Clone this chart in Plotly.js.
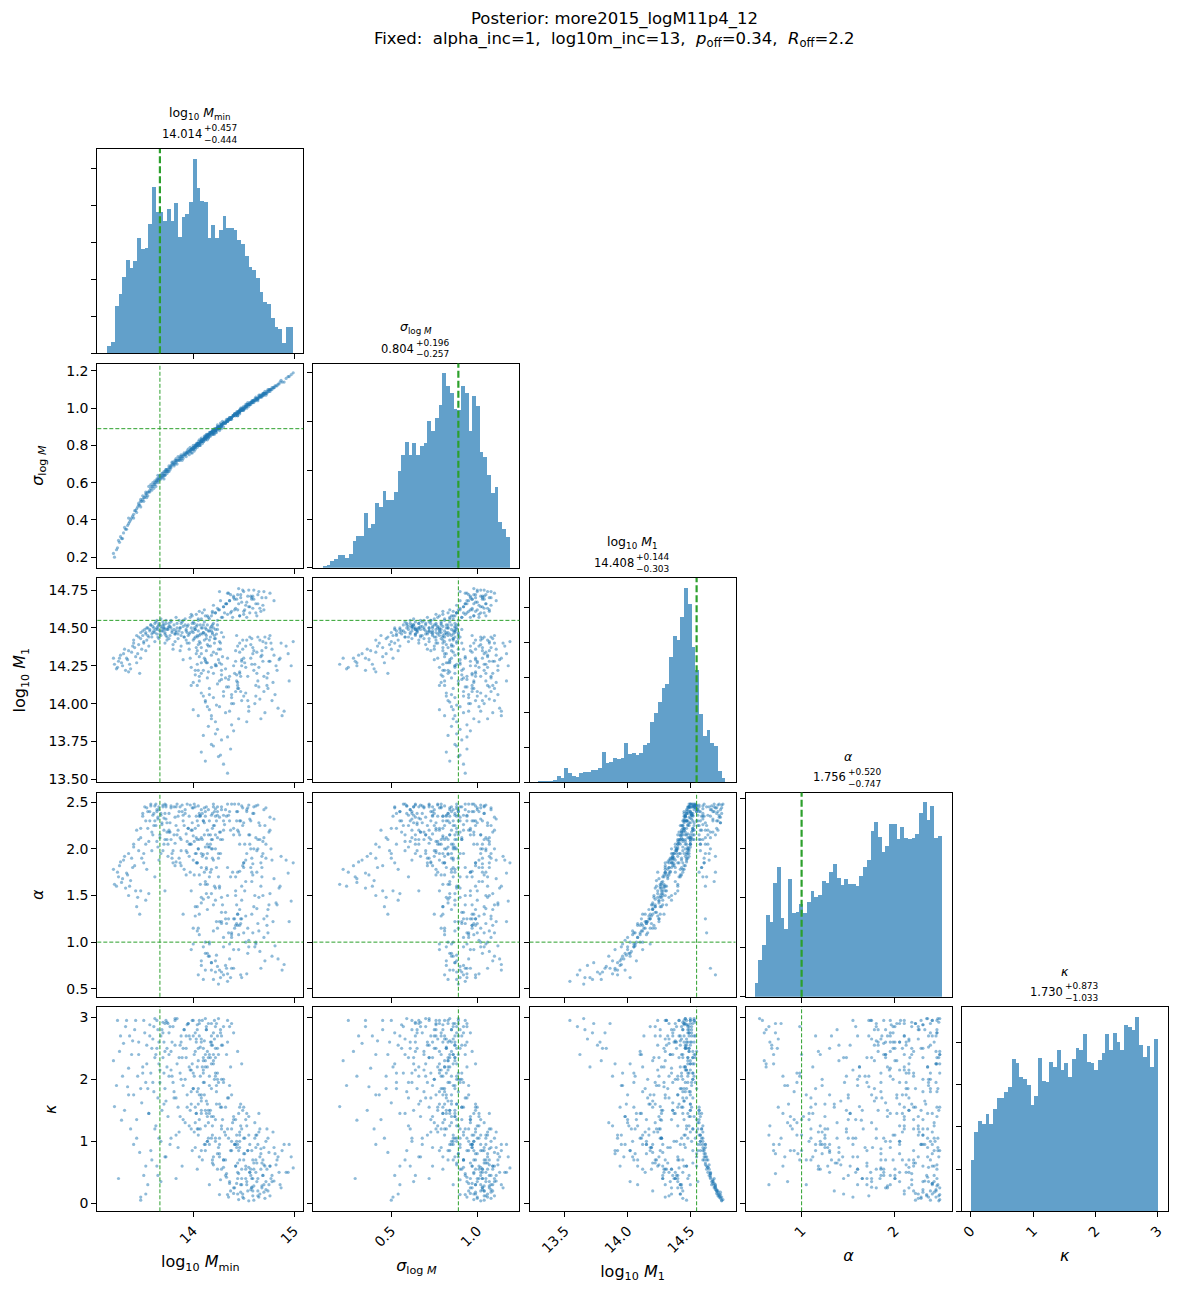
<!DOCTYPE html>
<html><head><meta charset="utf-8">
<script src="https://cdn.plot.ly/plotly-3.0.1.min.js"></script>
<style>body{margin:0;background:#fff}</style>
</head><body><div id="chart" style="width:1178px;height:1292px"></div>
<script>
// ---------------- posterior samples ----------------
const mmin = [
13.22,13.25,13.27,13.29,13.31,13.33,13.35,13.36,13.38,13.40,
13.41,13.43,13.44,13.46,13.47,13.48,13.49,13.50,13.51,13.52,
13.53,13.54,13.55,13.56,13.57,13.58,13.59,13.60,13.61,13.62,
13.62,13.63,13.64,13.64,13.65,13.66,13.66,13.67,13.68,13.68,
13.69,13.70,13.45,13.37,13.53,
13.71,13.72,13.73,13.74,13.75,13.76,13.77,13.78,13.79,13.80,
13.81,13.82,13.83,13.84,13.85,13.86,13.87,13.88,13.89,13.90,
13.91,13.92,13.93,13.94,13.95,13.96,13.97,13.98,13.99,14.00,
14.01,14.01,14.02,14.03,14.03,14.04,14.05,14.05,14.06,14.07,
14.07,14.08,14.09,14.09,14.10,14.11,14.11,14.12,14.13,14.13,
14.14,14.15,14.15,14.16,14.17,14.18,14.18,14.19,14.20,14.21,
14.22,14.22,14.23,14.24,14.25,13.74,13.78,13.83,13.88,13.92,
13.96,14.00,14.04,14.08,14.12,14.16,14.20,13.86,13.94,14.02,
14.06,14.10,14.14,14.18,14.22,13.72,13.80,13.90,13.98,14.05,
14.19,14.11,14.03,13.97,14.24,
14.34,14.30,14.12,14.25,14.08,14.37,14.18,14.28,14.10,14.40,
14.15,14.22,14.45,14.05,14.32,14.00,14.26,14.38,14.12,14.48,
14.20,14.30,14.08,14.42,14.16,14.35,13.98,14.24,14.44,14.06,
14.28,14.14,14.36,14.02,14.20,14.46,14.10,14.32,14.18,14.40,
14.04,14.26,14.48,14.12,14.34,14.22,14.16,14.38,14.28,14.08,
14.18,14.22,14.25,14.28,14.30,14.32,14.34,14.36,14.38,14.40,
14.42,14.44,14.46,14.48,14.50,14.52,14.54,14.56,14.58,14.60,
14.62,14.64,14.66,14.68,14.70,14.35,14.45,14.27,14.39,14.51,
14.57,14.63,14.20,14.31,14.43,14.55,14.67,14.47,14.33,14.59,
14.41,14.26,14.53,14.37,14.49,
14.42,14.44,14.46,14.48,14.50,14.52,14.54,14.55,14.57,14.58,
14.60,14.61,14.63,14.64,14.66,14.67,14.69,14.70,14.72,14.74,
14.76,14.78,14.80,14.84,14.88,14.92,14.99,14.45,14.51,14.56,
14.62,14.68,14.73,14.77,14.82,14.47,14.53,14.59,14.65,14.71,
14.43,14.86,14.95,14.49,14.75,
13.21,13.24,13.26,13.28,13.30,13.32,13.34,13.36,13.39,13.41,
13.42,13.44,13.46,13.48,13.50,13.51,13.53,13.54,13.56,13.57,
13.58,13.59,13.60,13.61,13.62,13.63,13.64,13.65,13.65,13.66,
13.67,13.68,13.69,13.70,13.71,13.72,13.73,13.74,13.48,13.55,
13.70,13.71,13.73,13.75,13.76,13.78,13.79,13.81,13.82,13.84,
13.85,13.87,13.88,13.90,13.91,13.93,13.94,13.96,13.97,13.99,
14.00,14.02,14.03,14.04,14.06,14.07,14.08,14.10,14.11,14.12,
14.13,14.14,14.16,14.17,14.19,14.20,14.21,14.23,14.24,14.26,
14.27,14.28,14.29,14.30,13.77,13.83,13.89,13.95,14.01,14.05,
14.09,14.13,14.17,14.21,14.25,13.72,13.76,13.82,13.87,13.93,
13.99,14.04,14.08,14.15,14.19,14.23,14.27,13.98,14.06,14.14,
14.02,14.10,14.18,14.26,14.34,14.42,14.06,14.14,14.22,14.30,
14.38,14.46,14.04,14.12,14.20,14.28,14.36,14.44,14.52,14.08,
14.16,14.24,14.32,14.40,14.48,14.00,14.18,14.28,14.38,14.13,
14.23,14.33,14.43,14.27,14.35,
14.05,14.12,14.19,14.24,14.29,14.33,14.37,14.41,14.44,14.47,
14.50,14.53,14.56,14.59,14.62,14.65,14.69,14.72,14.76,14.15,
14.26,14.36,14.46,14.55,14.64,14.30,14.40,14.50,14.60,14.70,
14.22,14.34,14.45,14.58,14.80,
14.41,14.44,14.47,14.50,14.53,14.55,14.58,14.60,14.62,14.64,
14.66,14.68,14.70,14.72,14.74,14.76,14.78,14.81,14.83,14.87,
14.90,14.94,14.97,14.43,14.49,14.54,14.59,14.63,14.67,14.71,
14.75,14.79,14.46,14.52,14.57,14.61,14.65,14.69,14.73,14.85];
const sigma = [
0.20,0.25,0.28,0.30,0.33,0.35,0.37,0.38,0.40,0.42,
0.43,0.45,0.46,0.48,0.48,0.50,0.50,0.51,0.52,0.52,
0.53,0.54,0.55,0.55,0.56,0.57,0.58,0.58,0.59,0.59,
0.60,0.60,0.61,0.61,0.62,0.62,0.63,0.62,0.63,0.64,
0.63,0.64,0.47,0.39,0.54,
0.64,0.65,0.66,0.66,0.67,0.68,0.68,0.69,0.70,0.70,
0.70,0.71,0.71,0.72,0.72,0.72,0.73,0.73,0.74,0.74,
0.75,0.75,0.76,0.76,0.76,0.77,0.77,0.78,0.78,0.78,
0.79,0.79,0.79,0.80,0.80,0.80,0.81,0.81,0.81,0.82,
0.82,0.82,0.83,0.83,0.83,0.84,0.84,0.84,0.85,0.85,
0.85,0.86,0.86,0.86,0.87,0.87,0.87,0.87,0.87,0.88,
0.88,0.88,0.89,0.89,0.89,0.67,0.69,0.72,0.74,0.75,
0.77,0.79,0.80,0.82,0.84,0.86,0.88,0.73,0.76,0.80,
0.81,0.83,0.85,0.87,0.89,0.66,0.71,0.75,0.78,0.81,
0.88,0.84,0.80,0.77,0.89,
0.93,0.92,0.84,0.89,0.82,0.94,0.87,0.91,0.83,0.96,
0.85,0.88,0.98,0.81,0.92,0.78,0.90,0.95,0.84,0.99,
0.87,0.92,0.82,0.97,0.86,0.94,0.78,0.89,0.98,0.81,
0.91,0.85,0.94,0.79,0.87,0.99,0.83,0.92,0.87,0.96,
0.80,0.90,1.00,0.84,0.93,0.88,0.86,0.95,0.91,0.82,
0.87,0.88,0.90,0.91,0.92,0.93,0.93,0.94,0.95,0.96,
0.97,0.98,0.98,0.99,1.00,1.01,1.02,1.02,1.03,1.04,
1.05,1.05,1.06,1.07,1.08,0.94,0.98,0.90,0.96,1.00,
1.03,1.05,0.88,0.92,0.97,1.02,1.07,0.99,0.93,1.04,
0.97,0.90,1.01,0.95,1.00,
0.96,0.97,0.98,0.99,1.00,1.01,1.02,1.02,1.03,1.03,
1.04,1.04,1.05,1.05,1.06,1.06,1.07,1.08,1.08,1.09,
1.10,1.10,1.11,1.13,1.14,1.16,1.19,0.98,1.00,1.02,
1.05,1.07,1.09,1.10,1.12,0.99,1.01,1.04,1.06,1.08,
0.97,1.14,1.17,0.99,1.10,
0.22,0.24,0.29,0.31,0.30,0.36,0.35,0.41,0.41,0.41,
0.45,0.44,0.49,0.47,0.53,0.50,0.55,0.52,0.58,0.55,
0.59,0.56,0.60,0.57,0.61,0.58,0.62,0.60,0.64,0.61,
0.64,0.62,0.65,0.63,0.66,0.64,0.67,0.65,0.51,0.53,
0.65,0.62,0.67,0.66,0.69,0.68,0.71,0.69,0.72,0.70,
0.74,0.72,0.75,0.73,0.76,0.74,0.77,0.75,0.79,0.76,
0.80,0.78,0.81,0.79,0.83,0.80,0.84,0.82,0.85,0.83,
0.86,0.83,0.87,0.85,0.88,0.86,0.89,0.87,0.91,0.88,
0.92,0.89,0.93,0.90,0.67,0.73,0.72,0.78,0.77,0.82,
0.81,0.85,0.87,0.86,0.90,0.64,0.66,0.70,0.74,0.76,
0.78,0.81,0.83,0.84,0.86,0.89,0.91,0.76,0.80,0.86,
0.80,0.82,0.87,0.89,0.94,0.96,0.80,0.85,0.87,0.92,
0.94,0.99,0.81,0.83,0.88,0.90,0.95,0.97,1.01,0.83,
0.85,0.90,0.92,0.96,0.99,0.79,0.86,0.91,0.95,0.84,
0.88,0.93,0.97,0.90,0.94,
0.81,0.85,0.86,0.90,0.91,0.94,0.94,0.97,0.96,0.99,
1.01,1.00,1.03,1.04,1.04,1.06,1.08,1.08,1.10,0.84,
0.89,0.95,0.98,1.02,1.05,0.92,0.96,0.99,1.04,1.07,
0.88,0.93,0.98,1.03,1.11,
0.97,0.96,1.00,0.99,1.02,1.01,1.04,1.03,1.06,1.04,
1.07,1.06,1.08,1.07,1.10,1.09,1.11,1.12,1.12,1.15,
1.14,1.17,1.18,0.98,0.99,1.03,1.03,1.05,1.06,1.09,
1.09,1.11,0.97,1.02,1.02,1.05,1.07,1.07,1.08,1.13];
const m1 = [
14.26,14.24,14.30,14.27,14.33,14.22,14.29,14.35,14.23,14.38,
14.40,14.31,14.27,14.44,14.20,14.47,14.36,14.45,14.40,14.49,
14.46,14.42,14.50,14.38,14.48,14.52,14.44,14.47,14.50,14.53,
14.41,14.49,14.55,14.46,14.51,14.43,14.52,14.48,14.56,14.45,
14.50,14.54,14.33,14.26,14.35,
14.50,14.47,14.53,14.42,14.49,14.51,14.45,14.55,14.48,14.39,
14.52,14.46,14.57,14.50,14.43,14.48,14.35,14.53,14.47,14.51,
14.44,14.56,14.49,14.40,14.52,14.46,14.30,14.50,14.58,14.47,
14.53,14.43,14.49,14.37,14.51,14.45,14.55,14.48,14.41,14.52,
14.46,14.33,14.50,14.60,14.47,14.42,14.54,14.28,14.49,14.45,
14.52,14.38,14.48,14.56,14.44,14.51,14.32,14.47,14.53,14.40,
14.49,14.26,14.46,14.55,14.36,14.44,14.50,14.48,14.45,14.52,
14.40,14.54,14.35,14.50,14.46,14.42,14.50,14.55,14.47,14.44,
14.31,14.52,14.39,14.48,14.43,14.40,14.36,14.29,14.24,14.22,
14.60,14.62,14.59,14.57,14.52,
13.54,13.60,13.62,13.65,13.68,13.70,13.73,13.76,13.79,13.82,
13.85,13.88,13.90,13.92,13.94,13.96,13.98,14.00,14.01,14.02,
14.04,14.05,14.07,14.08,14.10,14.11,14.12,14.13,14.14,14.15,
14.16,14.17,14.18,14.19,14.20,14.21,14.22,14.23,14.24,14.25,
14.26,14.27,14.28,14.29,14.30,13.80,13.96,14.06,14.19,14.27,
14.58,14.60,14.62,14.57,14.64,14.66,14.59,14.68,14.61,14.70,
14.63,14.72,14.58,14.67,14.74,14.65,14.71,14.60,14.69,14.75,
14.66,14.72,14.63,14.70,14.74,14.73,14.76,14.68,14.57,14.62,
14.71,14.58,14.65,14.60,14.69,14.64,14.61,14.70,14.66,14.63,
14.62,14.74,14.57,14.72,14.75,
14.35,14.12,14.40,14.25,14.05,14.38,14.18,13.95,14.30,14.43,
14.22,14.00,14.34,14.15,14.42,13.90,14.28,14.08,14.37,14.20,
14.45,14.02,14.32,13.97,13.92,14.38,14.41,14.10,14.27,14.44,
14.05,14.35,14.12,14.40,14.25,14.18,13.88,14.33,14.24,14.44,
14.45,14.30,14.15,14.36,14.28,
14.30,14.23,14.28,14.32,14.25,14.36,14.30,14.21,14.34,14.42,
14.37,14.45,14.39,14.43,14.48,14.41,14.47,14.50,14.44,14.49,
14.52,14.46,14.51,14.48,14.47,14.54,14.50,14.44,14.49,14.53,
14.46,14.51,14.48,14.52,14.50,14.46,14.55,14.49,14.30,14.45,
14.48,14.52,14.45,14.50,14.43,14.54,14.47,14.49,14.41,14.53,
14.46,14.50,14.38,14.55,14.44,14.48,14.51,14.36,14.47,14.53,
14.42,14.49,14.33,14.52,14.45,14.40,14.56,14.47,14.30,14.50,
14.43,14.27,14.48,14.38,14.52,14.34,14.45,14.25,14.49,14.41,
14.36,14.47,14.31,14.44,14.51,14.47,14.54,14.45,14.50,14.39,
14.46,14.35,14.50,14.43,14.29,14.49,14.53,14.46,14.50,14.42,
14.48,14.44,14.37,14.21,14.46,14.33,14.40,14.59,14.61,14.58,
14.22,14.05,13.92,14.15,13.78,14.28,14.18,13.98,14.25,14.08,
13.86,14.20,14.12,14.02,13.72,14.26,13.95,14.10,14.24,14.20,
14.06,13.83,14.17,14.00,14.29,14.14,13.90,14.22,14.04,14.27,
13.99,14.11,14.19,13.66,14.16,
14.56,14.58,14.61,14.63,14.57,14.66,14.60,14.69,14.62,14.72,
14.59,14.67,14.64,14.71,14.60,14.74,14.65,14.70,14.73,14.57,
14.62,14.68,14.58,14.75,14.66,14.64,14.71,14.61,14.69,14.62,
14.60,14.73,14.66,14.70,14.68,
14.20,14.38,14.08,14.30,14.42,13.98,14.26,14.35,14.12,14.44,
14.03,14.32,14.18,14.40,14.10,14.28,14.36,14.06,14.22,14.40,
13.95,14.33,14.25,14.15,14.42,14.02,14.37,14.20,14.31,13.94,
14.43,14.14,14.34,14.07,14.39,14.26,14.11,14.41,14.17,14.29];
const alpha = [
1.62,1.75,1.82,1.64,1.88,1.58,1.72,1.95,1.66,1.80,
2.02,1.55,1.38,2.10,1.30,2.22,1.90,2.35,1.85,2.45,
2.05,1.78,2.40,1.52,2.30,2.48,1.98,2.15,2.38,2.46,
1.70,2.25,2.42,2.08,2.32,1.88,2.45,2.12,2.36,1.95,
2.28,2.47,1.48,1.60,1.45,
2.05,2.38,2.45,2.10,1.92,2.38,2.28,2.44,1.95,1.98,
2.15,1.82,2.25,2.48,2.20,1.90,1.85,2.10,2.40,2.36,
2.25,2.42,1.98,2.08,2.22,2.35,1.75,2.05,2.20,1.88,
2.48,1.72,2.45,1.95,2.12,2.30,2.46,2.00,2.10,2.35,
2.36,1.80,2.10,2.38,1.94,2.15,2.44,1.65,2.45,1.78,
2.20,2.02,2.42,2.30,1.75,2.36,1.78,2.38,2.25,1.60,
2.00,1.58,2.30,2.40,1.90,2.18,2.10,2.45,1.82,2.38,
2.05,2.44,1.85,2.12,2.35,1.70,2.48,2.40,1.96,2.22,
1.72,2.30,1.95,2.00,2.15,1.55,1.85,1.30,1.55,1.15,
2.10,2.28,2.35,2.47,2.36,
0.58,0.65,0.70,0.55,0.75,0.62,0.78,0.68,0.60,0.72,
0.85,0.80,0.92,0.65,0.75,0.98,0.70,1.05,0.88,0.62,
1.12,0.95,0.80,1.18,1.00,1.25,0.92,1.15,1.30,1.08,
1.22,1.35,0.98,1.28,1.40,1.18,1.46,1.32,1.52,1.25,
1.38,1.58,1.45,1.62,1.50,0.68,0.85,1.10,1.20,1.48,
2.10,2.35,1.95,2.45,2.20,2.42,1.80,2.30,2.48,2.15,
1.70,2.40,2.05,2.46,2.28,1.88,2.44,2.32,1.65,2.38,
2.12,2.47,2.25,1.92,2.42,2.36,2.48,2.18,1.75,2.05,
2.30,1.98,2.45,2.26,2.40,2.15,1.85,0.65,0.72,1.10,
1.25,2.34,2.40,2.20,2.44,
1.50,1.30,2.15,1.25,1.10,1.65,1.15,0.95,1.80,1.90,
1.38,0.95,1.75,1.20,2.10,0.72,1.50,1.05,1.90,1.35,
2.20,0.85,1.68,0.82,0.70,1.88,1.85,1.08,1.55,2.15,
0.98,1.80,1.18,2.00,1.42,1.25,0.66,1.72,1.48,2.25,
2.30,1.60,1.22,1.82,1.40,
1.78,1.60,1.70,1.86,1.68,1.92,1.74,1.50,1.90,2.05,
1.82,2.20,1.98,2.12,2.38,1.95,2.30,2.44,2.08,2.40,
2.46,2.18,2.36,2.25,2.30,2.48,2.40,2.02,2.34,2.42,
2.15,2.38,2.26,2.45,2.33,2.10,2.47,2.28,1.55,2.22,
1.98,2.20,2.32,2.05,2.18,2.46,1.90,2.45,2.06,2.15,
2.35,2.12,1.98,2.30,1.78,2.16,2.48,1.92,2.05,2.28,
2.14,1.95,1.85,2.10,2.38,1.62,2.42,2.30,1.75,2.02,
1.80,1.62,2.02,2.05,2.22,1.88,2.40,1.22,2.12,2.18,
1.95,2.42,1.40,2.30,2.18,1.86,2.47,2.22,2.08,2.00,
1.92,1.90,2.15,2.25,1.70,2.48,2.20,2.34,2.45,1.72,
2.44,1.85,1.95,1.48,2.00,1.80,2.10,2.20,2.35,2.05,
1.38,0.95,0.78,1.22,0.66,1.55,1.30,0.88,1.45,1.05,
0.72,1.35,1.12,1.00,0.60,1.48,0.82,1.18,1.28,1.42,
0.98,0.74,1.25,0.92,1.60,1.15,0.70,1.32,1.08,1.52,
0.86,1.20,1.40,0.62,1.10,
2.25,2.40,1.90,2.45,2.10,2.35,1.70,2.48,2.20,2.30,
1.80,2.42,2.05,2.38,2.46,2.28,1.95,2.44,2.34,2.15,
1.60,2.40,2.30,2.47,2.00,2.36,2.22,1.85,2.45,2.12,
2.43,2.48,2.18,1.75,2.32,
1.15,1.75,1.20,1.85,1.95,1.02,1.30,2.00,1.00,2.10,
0.90,1.70,1.25,2.05,1.10,1.52,1.88,0.96,1.40,1.92,
0.76,1.74,1.44,1.20,2.25,0.88,1.84,1.36,1.60,0.80,
2.18,1.22,1.76,1.00,2.00,1.50,1.12,2.08,1.28,1.58];
const kappa = [
1.56,2.95,2.45,1.34,2.58,2.85,1.88,2.18,1.20,2.62,
1.75,2.95,1.05,2.40,0.82,0.05,1.62,2.20,0.45,2.75,
1.95,2.55,0.30,1.45,2.88,2.10,0.70,2.65,1.80,2.98,
2.35,1.25,0.60,2.50,2.80,1.05,2.25,1.95,0.35,2.70,
1.50,2.92,2.05,2.70,0.15,
2.60,1.85,2.95,2.20,1.40,2.75,0.95,2.45,2.05,2.85,
1.70,2.55,1.10,2.98,1.55,2.35,2.10,2.70,0.60,1.90,
2.80,1.30,2.50,1.75,2.90,2.20,2.65,1.60,0.85,2.95,
2.40,2.05,2.75,1.45,2.60,2.88,1.85,2.30,2.70,1.20,
2.52,1.70,2.95,0.70,2.15,2.62,1.95,1.50,2.80,1.65,
2.45,2.90,1.05,0.95,2.35,2.70,1.85,2.55,1.40,2.00,
2.85,1.35,1.80,0.80,2.40,2.92,2.15,0.40,2.60,2.00,
1.25,2.70,0.55,1.75,2.98,0.30,2.25,1.15,2.88,1.55,
2.95,2.35,1.00,2.60,2.10,0.75,1.95,2.50,2.15,1.60,
1.25,0.95,1.45,1.50,2.00,
2.95,2.85,2.40,2.98,2.65,2.20,2.90,2.55,2.30,2.75,
1.30,2.05,0.85,1.10,1.55,2.10,0.95,1.75,1.25,2.25,
0.75,1.95,1.45,0.60,2.40,1.05,1.80,2.70,0.50,1.35,
2.00,1.60,2.85,0.90,2.30,1.15,1.95,0.70,2.55,1.40,
2.80,1.05,0.40,2.20,1.70,2.50,1.90,1.20,0.55,1.50,
1.40,1.05,0.90,1.55,0.70,0.45,1.20,0.35,0.85,0.25,
0.60,0.15,1.00,0.30,0.08,0.55,0.20,0.95,0.40,0.05,
0.50,0.12,0.75,0.28,0.18,0.10,0.06,0.38,1.30,0.80,
0.22,1.10,0.62,1.15,0.32,0.58,0.88,0.30,0.48,0.70,
0.95,0.14,1.45,0.20,0.10,
1.35,0.95,0.70,1.20,1.55,0.40,0.85,1.10,0.55,0.25,
0.65,1.30,0.35,0.95,0.15,0.80,0.45,0.30,1.00,0.20,
0.60,0.35,0.90,0.75,0.85,0.50,0.57,1.45,1.05,0.50,
0.70,0.25,0.55,0.40,0.62,1.60,1.25,0.12,1.15,0.08,
1.10,0.30,0.95,1.50,0.82,
2.30,1.90,0.40,2.70,2.05,1.50,2.95,1.75,2.40,0.95,
2.80,1.35,2.60,1.85,2.10,2.95,0.60,2.25,1.45,2.70,
0.85,2.50,1.95,2.85,1.20,2.40,2.95,1.70,0.45,2.60,
2.15,1.00,2.80,2.35,1.60,2.90,0.75,2.50,0.10,1.85,
2.75,2.10,1.65,2.90,2.40,1.05,2.60,1.80,2.95,2.25,
0.90,2.55,2.00,1.35,2.80,2.35,1.55,2.70,2.15,2.95,
1.85,2.45,2.65,1.20,2.90,2.05,0.85,2.50,1.75,2.30,
2.85,2.20,1.45,2.60,0.65,2.40,2.95,1.90,2.10,1.60,
2.75,1.25,2.55,2.00,2.85,1.70,2.35,2.90,1.15,2.50,
2.20,2.80,1.50,2.65,1.95,2.45,2.05,2.98,1.40,2.70,
2.25,1.80,2.60,2.35,1.10,2.90,1.55,1.20,0.75,1.00,
1.30,2.10,1.05,0.80,2.60,0.95,1.75,1.40,2.35,0.70,
2.90,1.55,2.20,0.85,2.75,1.20,1.90,2.45,0.60,1.65,
2.05,2.50,1.10,1.35,0.55,1.85,2.25,2.70,1.00,1.45,
1.60,2.40,0.90,2.80,1.70,
1.20,0.95,0.70,0.55,1.35,0.42,0.85,0.25,0.65,0.18,
1.05,0.35,0.50,0.20,0.90,0.10,0.45,0.22,0.12,1.50,
0.75,0.32,1.10,0.04,0.40,0.58,0.16,0.80,0.28,0.62,
1.00,0.14,0.48,0.26,0.36,
0.95,0.40,1.25,0.70,0.30,1.40,0.85,0.55,1.10,0.20,
1.20,0.65,0.90,0.35,1.05,0.60,0.45,0.80,0.70,0.25,
0.95,0.50,0.75,1.00,0.15,0.85,0.40,0.65,0.55,0.60,
0.30,1.15,0.90,1.35,0.45,1.05,1.45,0.70,1.20,0.50];

// ---------------- marginal histograms (50 bins each, counts) ----------------
const histMmin = [2.1,3.1,12.8,16.1,20.7,25.3,23.0,24.9,31.2,28.3,28.5,35.1,45.2,38.2,38.4,36.0,39.1,36.0,40.7,31.6,37.0,37.9,41.0,52.7,44.8,41.3,41.1,31.4,34.8,31.3,33.5,37.3,34.0,34.0,33.5,30.7,29.7,26.5,23.5,22.6,20.5,16.7,13.8,13.4,9.7,7.1,6.5,2.8,7.0,7.2];
const histSigma = [0.3,0.5,1.4,1.8,2.6,2.6,2.0,2.9,5.5,6.5,6.5,11.2,8.2,8.9,13.2,12.5,15.7,13.9,14.0,15.5,19.8,23.2,25.9,23.2,25.6,23.2,24.9,25.6,30.1,28.0,30.7,33.3,40.0,37.2,35.9,32.5,32.3,37.2,35.9,28.1,35.2,33.1,23.7,22.8,19.1,15.4,16.5,9.3,8.0,6.3];
const histM1 = [0.3,0.3,0.3,0.4,0.7,1.8,1.3,4.1,2.7,1.8,1.6,2.7,2.9,2.9,3.5,3.5,4.1,8.6,5.5,5.9,7.0,6.8,7.0,11.4,8.1,8.4,7.9,8.4,10.7,11.2,17.3,20.0,23.0,27.1,28.2,35.9,42.1,40.7,47.4,55.7,51.1,38.9,32.1,19.5,13.3,15.0,11.2,10.3,3.3,1.2];
const histAlpha = [2.8,7.4,10.5,16.5,15.1,23.0,26.2,15.9,13.7,23.8,16.9,17.1,18.7,16.8,19.1,21.3,20.1,20.5,23.4,23.0,25.2,26.8,24.0,22.6,23.8,22.8,22.8,22.3,24.4,26.2,27.6,33.4,35.2,32.2,29.2,30.5,34.8,34.8,31.8,34.2,32.0,31.9,32.0,32.8,37.0,39.3,35.7,38.5,32.1,32.4];
const histKappa = [12.2,18.8,21.4,20.7,23.0,20.7,24.2,26.9,26.9,28.2,29.3,36.0,35.0,31.7,31.2,29.9,25.1,27.2,36.2,30.8,30.6,35.3,34.1,38.1,33.4,35.0,31.7,35.9,38.6,38.1,41.9,35.3,35.0,33.4,35.7,37.4,41.9,38.1,42.1,40.0,38.1,44.0,43.5,42.8,45.9,39.3,36.5,39.0,34.1,40.7];
// histogram bin range [first edge, last edge]
const binMmin = [13.15, 14.99];
const binSigma = [0.102, 1.188];
const binM1 = [13.286, 14.78];
const binAlpha = [0.496, 2.50];
const binKappa = [0.0, 3.0];

// truth values (kappa has none)
const truths = [13.67, 0.89, 14.55, 1.0, null];

// labels and summaries
const paramLabels = [
  'log<sub>10</sub> <i>M</i><sub>min</sub>',
  '<i>σ</i><sub>log <i>M</i></sub>',
  'log<sub>10</sub> <i>M</i><sub>1</sub>',
  '<i>α</i>',
  '<i>κ</i>'];
const medians = ['14.014','0.804','14.408','1.756','1.730'];
const errPlus = ['+0.457','+0.196','+0.144','+0.520','+0.873'];
const errMinus = ['−0.444','−0.257','−0.303','−0.747','−1.033'];

const xTickVals = [[14,15],[0.5,1.0],[13.5,14.0,14.5],[1,2],[0,1,2,3]];
const xTickText = [['14','15'],['0.5','1.0'],['13.5','14.0','14.5'],['1','2'],['0','1','2','3']];
const yTickVals = [null,[0.2,0.4,0.6,0.8,1.0,1.2],[13.5,13.75,14.0,14.25,14.5,14.75],[0.5,1.0,1.5,2.0,2.5],[0,1,2,3]];
const yTickText = [null,['0.2','0.4','0.6','0.8','1.0','1.2'],['13.50','13.75','14.00','14.25','14.50','14.75'],['0.5','1.0','1.5','2.0','2.5'],['0','1','2','3']];

const titleLine1 = 'Posterior: more2015_logM11p4_12';
const titleLine2 = 'Fixed:&nbsp; alpha_inc=1,&nbsp; log10m_inc=13,&nbsp; <i>p</i><sub>off</sub>=0.34,&nbsp; <i>R</i><sub>off</sub>=2.2';

// ---------------- layout geometry ----------------
const W = 1178, H = 1292;
const xRanges = [[13.05,15.09],[0.047,1.245],[13.218,14.86],[0.40,2.607],[-0.144,3.157]];
const yRanges = [null,[0.143,1.24],[13.48,14.83],[0.414,2.604],[-0.129,3.166]];
const histTop = [55.4, 41.9, 58.6, 41.2, 48.3];
const params = [mmin, sigma, m1, alpha, kappa];
const nSamp = Math.min(...params.map(p => p.length));
const hists = [histMmin, histSigma, histM1, histAlpha, histKappa];
const bins = [binMmin, binSigma, binM1, binAlpha, binKappa];

const FONT = 'DejaVu Sans';
const GREEN = '#2ca02c';
const colX0 = c => 97.3 + c * 216.1;
const rowY0 = r => 149 + r * 214.5;
const PW = 206, PH = 204.3;
const xdom = c => [colX0(c) / W, (colX0(c) + PW) / W];
const ydom = r => [1 - (rowY0(r) + PH) / H, 1 - rowY0(r) / H];
const px = v => v / W, py = v => 1 - v / H;

function textWidth(s, size) {
  let w = 0;
  for (const ch of s) {
    if (/[0-9]/.test(ch)) w += 0.636;
    else if (ch === '.') w += 0.318;
    else w += 0.838;
  }
  return w * size;
}

const baseAxis = {
  showline: true, mirror: true, linecolor: '#000', linewidth: 1,
  ticks: 'outside', ticklen: 5, tickwidth: 1, tickcolor: '#000',
  showgrid: false, zeroline: false, automargin: false, fixedrange: true,
  tickfont: {family: FONT, size: 14, color: '#000'}
};
const axTitleFont = {family: FONT, size: 16, color: '#000'};

const traces = [], shapes = [], annotations = [];
const layout = {
  width: W, height: H, margin: {l: 0, r: 0, t: 0, b: 0},
  paper_bgcolor: '#fff', plot_bgcolor: '#fff', showlegend: false,
  bargap: 0, font: {family: FONT, color: '#000'}
};

let k = 0;
for (let r = 0; r < 5; r++) {
  for (let c = 0; c <= r; c++) {
    k++;
    const sfx = k === 1 ? '' : String(k);
    const xa = {
      ...baseAxis, domain: xdom(c), range: xRanges[c], anchor: 'y' + sfx,
      tickmode: 'array', tickvals: xTickVals[c],
      ticktext: r === 4 ? xTickText[c] : xTickVals[c].map(() => ''),
      showticklabels: r === 4, tickangle: -45
    };
    const ya = {
      ...baseAxis, domain: ydom(r), anchor: 'x' + sfx, tickmode: 'array',
      showticklabels: (c === 0 && r > 0)
    };
    if (r === 4) xa.title = {text: paramLabels[c], font: axTitleFont, standoff: 10};
    if (c === 0 && r > 0) ya.title = {text: paramLabels[r], font: axTitleFont, standoff: 18};

    if (r === c) {
      const h = hists[c], [b0, b1] = bins[c], w = (b1 - b0) / h.length;
      traces.push({
        type: 'bar', x: h.map((_, i) => b0 + (i + 0.5) * w), y: h, width: w,
        marker: {color: 'rgba(31,119,180,0.7)', line: {width: 0}},
        xaxis: 'x' + sfx, yaxis: 'y' + sfx, hoverinfo: 'skip'
      });
      ya.range = [0, histTop[c]];
      const tv = []; for (let t = 0; t <= histTop[c]; t += 10) tv.push(t);
      ya.tickvals = tv; ya.ticktext = tv.map(() => '');
      if (truths[c] !== null) {
        shapes.push({type: 'line', xref: 'x' + sfx, yref: 'y' + sfx + ' domain',
          x0: truths[c], x1: truths[c], y0: 0, y1: 1,
          line: {color: GREEN, width: 2.2, dash: '7px,3px'}});
      }
      const cx = colX0(c) + PW / 2, top = rowY0(r);
      annotations.push({text: paramLabels[c], x: px(cx), y: py(top - 36), xref: 'paper', yref: 'paper',
        xanchor: 'center', yanchor: 'middle', showarrow: false, font: {family: FONT, size: 12.5, color: '#000'}});
      const wN = textWidth(medians[c], 11.5), wS = textWidth(errPlus[c], 9);
      const split = cx + (wN - wS) / 2;
      annotations.push({text: medians[c], x: px(split), y: py(top - 15), xref: 'paper', yref: 'paper',
        xanchor: 'right', yanchor: 'middle', showarrow: false, font: {family: FONT, size: 11.5, color: '#000'}});
      annotations.push({text: errPlus[c], x: px(split - 2), y: py(top - 21), xref: 'paper', yref: 'paper',
        xanchor: 'left', yanchor: 'middle', showarrow: false, font: {family: FONT, size: 9, color: '#000'}});
      annotations.push({text: errMinus[c], x: px(split - 2), y: py(top - 9), xref: 'paper', yref: 'paper',
        xanchor: 'left', yanchor: 'middle', showarrow: false, font: {family: FONT, size: 9, color: '#000'}});
    } else {
      traces.push({
        type: 'scatter', mode: 'markers',
        x: params[c].slice(0, nSamp), y: params[r].slice(0, nSamp),
        marker: {size: 3.2, color: 'rgba(31,119,180,0.5)', line: {width: 0}},
        xaxis: 'x' + sfx, yaxis: 'y' + sfx, hoverinfo: 'skip'
      });
      ya.range = yRanges[r];
      ya.tickvals = yTickVals[r];
      ya.ticktext = c === 0 ? yTickText[r] : yTickVals[r].map(() => '');
      if (truths[c] !== null) {
        shapes.push({type: 'line', xref: 'x' + sfx, yref: 'y' + sfx + ' domain',
          x0: truths[c], x1: truths[c], y0: 0, y1: 1,
          line: {color: GREEN, width: 1, dash: '4px,2px'}});
      }
      if (truths[r] !== null) {
        shapes.push({type: 'line', xref: 'x' + sfx + ' domain', yref: 'y' + sfx,
          x0: 0, x1: 1, y0: truths[r], y1: truths[r],
          line: {color: GREEN, width: 1, dash: '4px,2px'}});
      }
    }
    layout['xaxis' + sfx] = xa;
    layout['yaxis' + sfx] = ya;
  }
}

annotations.push({text: titleLine1, x: px(614), y: py(19), xref: 'paper', yref: 'paper',
  xanchor: 'center', yanchor: 'middle', showarrow: false, font: {family: FONT, size: 16.5, color: '#000'}});
annotations.push({text: titleLine2, x: px(614), y: py(39), xref: 'paper', yref: 'paper',
  xanchor: 'center', yanchor: 'middle', showarrow: false, font: {family: FONT, size: 16.5, color: '#000'}});

layout.shapes = shapes;
layout.annotations = annotations;
Plotly.newPlot('chart', traces, layout, {displayModeBar: false, staticPlot: true});
</script>
</body></html>
